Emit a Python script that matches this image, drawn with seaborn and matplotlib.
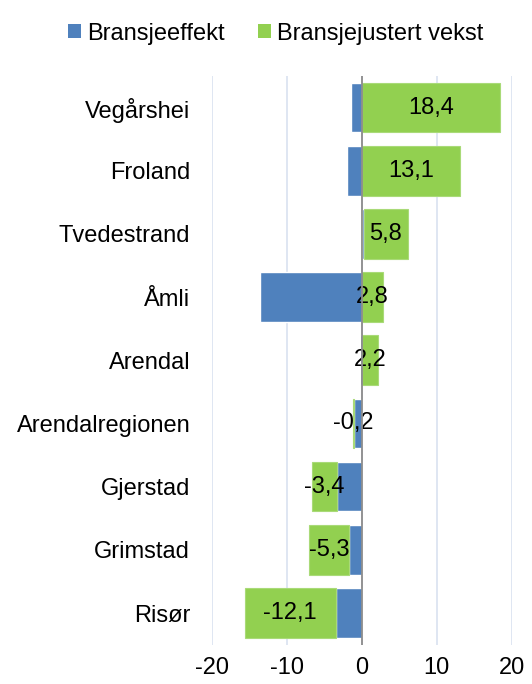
import numpy as np
import pandas as pd
import matplotlib
matplotlib.use("Agg")
import matplotlib.pyplot as plt
import seaborn as sns
from matplotlib.patches import Patch

categories = ["Vegårshei", "Froland", "Tvedestrand", "Åmli", "Arendal",
              "Arendalregionen", "Gjerstad", "Grimstad", "Risør"]
bransjeeffekt = [-1.5, -2.0, 0.3, -13.5, -0.2, -1.0, -3.3, -1.7, -3.5]
bransjejustert = [18.4, 13.1, 5.8, 2.8, 2.2, -0.2, -3.4, -5.3, -12.1]
series_names = ["Bransjeeffekt", "Bransjejustert vekst"]
xticks = [-20, -10, 0, 10, 20]

BLUE = "#4F81BD"
GREEN = "#92D050"
FS = 17

sns.set_theme(style="white")
plt.rcParams["font.family"] = ["Liberation Sans", "DejaVu Sans"]

df = pd.DataFrame({"kommune": categories,
                   "blue": bransjeeffekt,
                   "green": bransjejustert})
b = np.array(bransjeeffekt)
g = np.array(bransjejustert)
# stack green onto blue when same sign, otherwise start at zero
offset = np.where(np.sign(b) == np.sign(g), b, 0.0)

fig = plt.figure(figsize=(5.32, 6.84), dpi=100)
ax = fig.add_axes([0.398, 0.0576, 0.564, 0.8314])

sns.barplot(data=df, y="kommune", x="blue", orient="h", color=BLUE,
            saturation=1, width=0.785, ax=ax, order=categories)
sns.barplot(data=df, y="kommune", x="green", orient="h", color=GREEN,
            saturation=1, width=0.785, ax=ax, order=categories, left=offset,
            edgecolor="#A9DA78", linewidth=0.8)

green_container = ax.containers[1]
labels = [f"{v:.1f}".replace(".", ",") for v in bransjejustert]
ax.bar_label(green_container, labels=labels, label_type="center",
             fontsize=FS, color="black")

ax.set_xlim(-20, 20)
ax.set_xticks(xticks)
ax.set_xticklabels([str(t) for t in xticks])
ax.xaxis.grid(True, color="#D9E1F0", linewidth=1.2)
ax.set_axisbelow(True)
ax.axvline(0, color="#8C8C8C", linewidth=1.3, zorder=5)
for s in ax.spines.values():
    s.set_visible(False)
ax.set_xlabel("")
ax.set_ylabel("")
ax.tick_params(axis="y", length=0, pad=15.5, labelsize=FS, labelcolor="black")
ax.tick_params(axis="x", length=0, pad=9, labelsize=FS, labelcolor="black")

handles = [Patch(facecolor=BLUE, edgecolor="none"),
           Patch(facecolor=GREEN, edgecolor="none")]
fig.legend(handles, series_names, loc="upper center",
           bbox_to_anchor=(0.518, 0.998), ncol=2, frameon=False,
           fontsize=FS, handlelength=0.55, handleheight=0.55,
           handletextpad=0.25, columnspacing=1.4, labelcolor="black")

fig.savefig("out.png", dpi=100)
